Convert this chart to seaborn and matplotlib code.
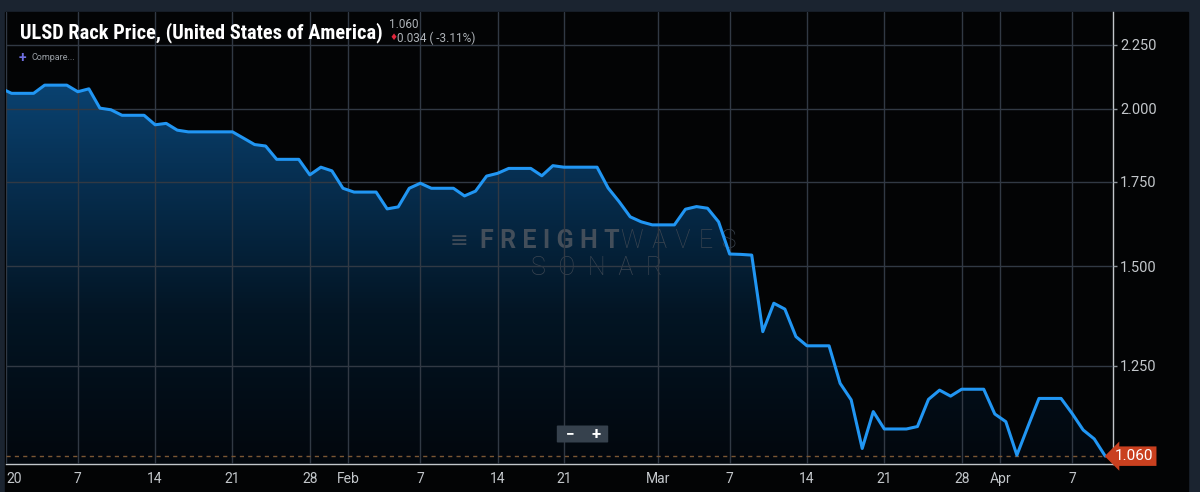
import numpy as np
import pandas as pd
import seaborn as sns
import matplotlib.pyplot as plt
from matplotlib.patches import Rectangle, FancyBboxPatch
from matplotlib.colors import LinearSegmentedColormap

# daily rack price, Dec 31 2019 - Apr 10 2020 (Feb 17 missing in the source)
dates = pd.date_range('2019-12-31', '2020-04-10').drop(pd.Timestamp('2020-02-17'))
price_dec = [2.078]
price_jan = [2.058, 2.058, 2.058, 2.089, 2.089, 2.089, 2.064, 2.075, 2.003, 1.997,
             1.977, 1.977, 1.977, 1.943, 1.948, 1.924, 1.918, 1.918, 1.918, 1.918,
             1.918, 1.896, 1.874, 1.869, 1.824, 1.824, 1.824, 1.773, 1.798, 1.786,
             1.730]
price_feb = [1.718, 1.718, 1.718, 1.666, 1.672, 1.730, 1.746, 1.730, 1.730, 1.730,
             1.706, 1.721, 1.769, 1.778, 1.794, 1.794, 1.794, 1.770, 1.803, 1.798,
             1.798, 1.798, 1.798, 1.731, 1.688, 1.642, 1.627, 1.618]
price_mar = [1.618, 1.618, 1.665, 1.673, 1.668, 1.627, 1.534, 1.533, 1.531, 1.331,
             1.402, 1.387, 1.319, 1.297, 1.297, 1.297, 1.211, 1.175, 1.075, 1.150,
             1.114, 1.114, 1.114, 1.119, 1.176, 1.196, 1.183, 1.198, 1.198, 1.198,
             1.145]
price_apr = [1.129, 1.062, 1.119, 1.178, 1.178, 1.178, 1.146, 1.112, 1.094, 1.060]

week_ticks = ['2020-01-07', '2020-01-14', '2020-01-21', '2020-01-28', '2020-02-07',
              '2020-02-14', '2020-02-21', '2020-03-07', '2020-03-14', '2020-03-21',
              '2020-03-28', '2020-04-07']
week_labels = ['7', '14', '21', '28', '7', '14', '21', '7', '14', '21', '28', '7']
month_ticks = ['2020-01-01', '2020-02-01', '2020-03-01', '2020-04-01']
month_labels = ['20', 'Feb', 'Mar', 'Apr']
y_ticks = [1.25, 1.5, 1.75, 2.0, 2.25]
y_labels = ['1.250', '1.500', '1.750', '2.000', '2.250']

last_value = '1.060'
change_text = '0.034 ( -3.11%)'

prices = price_dec + price_jan + price_feb + price_mar + price_apr
df = pd.DataFrame({'date': dates, 'price': prices})
df['pos'] = np.arange(len(df))  # ordinal axis like the source chart
pos_of = dict(zip(df['date'], df['pos']))

sns.set_style('dark')
plt.rcParams['font.family'] = ['Roboto', 'DejaVu Sans']

fig = plt.figure(figsize=(12, 4.92), dpi=100, facecolor='#1b2430')
fig.patches.append(Rectangle((5 / 1200, 0), 1183 / 1200, 480 / 492,
                             transform=fig.transFigure, color='#030405', zorder=-10))

ax = fig.add_axes([6 / 1200, 28 / 492, 1107 / 1200, 452 / 492])
ax.set_facecolor('none')
ax.set_yscale('log')
ymin, ymax = 1.0449, 2.388
ax.set_ylim(ymin, ymax)
ax.set_xlim(0.5, 100.7)

# gradient area under the line
area = ax.fill_between(df['pos'], df['price'], ymin, facecolor='none', edgecolor='none')
grad = LinearSegmentedColormap.from_list('g', ['#02070d', '#031524', '#073256', '#0d5189'])
img = ax.imshow(np.linspace(0, 1, 256).reshape(-1, 1), cmap=grad, origin='lower',
                extent=[0, 1, 0, 1], transform=ax.transAxes, aspect='auto', zorder=1)
img.set_clip_path(area.get_paths()[0], ax.transData)

sns.lineplot(data=df, x='pos', y='price', ax=ax, color='#2196f3', linewidth=2.2, zorder=5)

ax.axhline(1.06, color='#7a5633', linestyle=(0, (3, 3)), linewidth=1, zorder=3)

# axes styling
xt = [pos_of[pd.Timestamp(d)] for d in week_ticks] + \
     [pos_of[pd.Timestamp(d)] - 0.5 for d in month_ticks]
xl = week_labels + month_labels
ax.set_xticks(xt)
ax.set_xticklabels(xl)
for lab in ax.get_xticklabels():
    if lab.get_text() == '20':
        lab.set_horizontalalignment('left')
ax.set_yticks(y_ticks)
ax.set_yticklabels(y_labels)
ax.minorticks_off()
ax.yaxis.tick_right()
ax.tick_params(axis='x', colors='#8d939a', labelcolor='#c3c7cb', labelsize=10,
               length=5, width=1, pad=3, direction='inout')
ax.tick_params(axis='y', colors='#8d939a', labelcolor='#c3c7cb', labelsize=10.5,
               length=3, width=1, pad=2)
ax.grid(True, color='#313944', linewidth=1)
ax.set_axisbelow(False)
for g in ax.get_xgridlines() + ax.get_ygridlines():
    g.set_zorder(2)
for s in ['top', 'left']:
    ax.spines[s].set_visible(False)
for s in ['bottom', 'right']:
    ax.spines[s].set_color('#c2c6ca')
    ax.spines[s].set_linewidth(1)
ax.set_xlabel('')
ax.set_ylabel('')

# last value flag
ax.text(df['pos'].iloc[-1] + 0.9, 1.06, last_value, ha='left', va='center',
        color='white', fontsize=11, clip_on=False, zorder=6,
        bbox=dict(boxstyle='larrow,pad=0.18', fc='#c9401f', ec='none'))

# watermark
gap = '\u2005'
gap_w = '\u2004'
en = '\u2002'
ax.text(0.409, 0.493, '\u2261', transform=ax.transAxes, ha='center', va='center',
        fontsize=16, color='#3f4a57', zorder=2)
ax.text(0.5547, 0.493, gap.join('FREIGHT'), transform=ax.transAxes, ha='right',
        va='center', fontsize=18, fontweight='bold', color='#434e5a', zorder=2)
ax.text(0.5556, 0.493, gap_w.join('WAVES'), transform=ax.transAxes, ha='left',
        va='center', fontsize=18, fontweight='light', color='#3b4551', zorder=2)
ax.text(0.534, 0.434, en.join('SONAR'), transform=ax.transAxes, ha='center',
        va='center', fontsize=18, fontweight='light', color='#3b4551', zorder=2)

# zoom buttons
fig.patches.append(FancyBboxPatch((558 / 1200, 1 - 442 / 492), 49 / 1200, 16 / 492,
                                  boxstyle='round,pad=0.001', transform=fig.transFigure,
                                  fc='#36414d', ec='none', zorder=6))
fig.text(570 / 1200, 1 - 434 / 492, '\u2212', color='white', fontsize=11,
         ha='center', va='center', fontweight='bold', zorder=7)
fig.text(596 / 1200, 1 - 434 / 492, '+', color='white', fontsize=12,
         ha='center', va='center', fontweight='bold', zorder=7)

# header
fig.text(20 / 1200, 1 - 38 / 492, 'ULSD Rack Price, (United States of America)',
         family=['Liberation Sans Narrow', 'Roboto Condensed', 'Roboto'],
         fontsize=14.7, fontweight='bold', color='white', va='baseline')
fig.text(389 / 1200, 1 - 24 / 492, last_value, color='#aeb3b8', fontsize=8.5, va='center')
fig.text(389 / 1200, 1 - 38 / 492, '\u2666', color='#e0263c', fontsize=6.5, va='center',
         family=['DejaVu Sans'])
fig.text(397 / 1200, 1 - 38 / 492, change_text, color='#aeb3b8', fontsize=8.5, va='center')
fig.text(19 / 1200, 1 - 58 / 492, '+', color='#6f6fe0', fontsize=10, va='center',
         fontweight='bold')
fig.text(32 / 1200, 1 - 58 / 492, 'Compare...', color='#9aa0a6', fontsize=6.5, va='center')

fig.savefig('out.png', dpi=100, facecolor=fig.get_facecolor())
